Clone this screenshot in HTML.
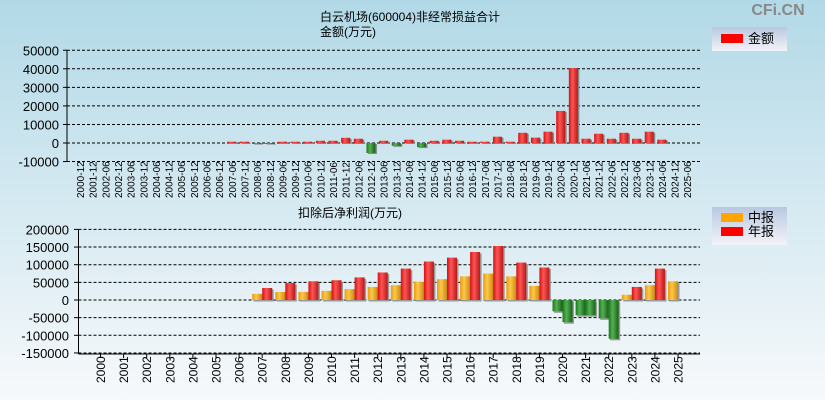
<!DOCTYPE html>
<html><head><meta charset="utf-8"><style>
body{margin:0;width:825px;height:400px;overflow:hidden;font-family:"Liberation Sans","Noto Sans CJK SC",sans-serif}
svg{display:block}
</style></head><body>
<svg id="c" width="825" height="400" xmlns="http://www.w3.org/2000/svg">
<defs>
<linearGradient id="bg" x1="0" y1="0" x2="0" y2="1"><stop offset="0" stop-color="#b2d9e7"/><stop offset="1" stop-color="#f7f9fb"/></linearGradient>
<linearGradient id="lg" x1="0" y1="0" x2="0" y2="1"><stop offset="0" stop-color="#b8c8e0"/><stop offset="1" stop-color="#f3f3f8"/></linearGradient>
<linearGradient id="gr" x1="0" x2="1"><stop offset="0" stop-color="#d21010"/><stop offset="0.4" stop-color="#ff5555"/><stop offset="1" stop-color="#b81818"/></linearGradient>
<linearGradient id="go" x1="0" x2="1"><stop offset="0" stop-color="#e89a10"/><stop offset="0.4" stop-color="#ffc84a"/><stop offset="1" stop-color="#c88a10"/></linearGradient>
<linearGradient id="gg" x1="0" x2="1"><stop offset="0" stop-color="#1a7a1a"/><stop offset="0.4" stop-color="#55b055"/><stop offset="1" stop-color="#166016"/></linearGradient>
</defs>
<rect width="825" height="400" fill="url(#bg)"/>
<text x="778" y="15" font-size="16" font-weight="bold" fill="#888" text-anchor="middle">CFi.CN</text>
<text x="410" y="21" font-size="12" text-anchor="middle">白云机场(600004)非经常损益合计</text>
<text x="348" y="36" font-size="12" text-anchor="middle">金额(万元)</text>
<text x="350" y="217" font-size="12" text-anchor="middle">扣除后净利润(万元)</text>
<g>
<rect x="712" y="27" width="75" height="24" fill="url(#lg)"/>
<rect x="721" y="34" width="22" height="9" fill="#f00"/>
<text x="748" y="43" font-size="13">金额</text>
</g>
<g>
<rect x="712" y="207" width="75" height="38" fill="url(#lg)"/>
<rect x="721" y="213" width="22" height="9" fill="#ffa500"/>
<text x="748" y="222" font-size="13">中报</text>
<rect x="721" y="227" width="22" height="9" fill="#f00"/>
<text x="748" y="236" font-size="13">年报</text>
</g>
<g id="top"></g><g id="bot"></g>
</svg>
<script>
const topCats=["2000-12","2001-12","2002-06","2002-12","2003-06","2003-12","2004-06","2004-12","2005-06","2005-12","2006-06","2006-12","2007-06","2007-12","2008-06","2008-12","2009-06","2009-12","2010-06","2010-12","2011-06","2011-12","2012-06","2012-12","2013-06","2013-12","2014-06","2014-12","2015-06","2015-12","2016-06","2016-12","2017-06","2017-12","2018-06","2018-12","2019-06","2019-12","2020-06","2020-12","2021-06","2021-12","2022-06","2022-12","2023-06","2023-12","2024-06","2024-12","2025-06"];
const topVals=[null,null,null,null,null,null,null,null,null,null,null,null,700,700,-300,-300,700,700,700,1200,1200,2800,2300,-5400,1200,-1500,1800,-2200,1200,1800,1200,700,700,3400,700,5500,2900,6100,17300,40400,2300,5000,2300,5500,2300,6100,1800,null,null];
const topTicks=[50000,40000,30000,20000,10000,0,-10000];
const botCats=["2000","2001","2002","2003","2004","2005","2006","2007","2008","2009","2010","2011","2012","2013","2014","2015","2016","2017","2018","2019","2020","2021","2022","2023","2024","2025"];
const midVals=[null,null,null,null,null,null,null,17500,23000,23000,26000,31000,37000,42000,51000,59000,67000,75000,67000,40000,-32000,-43000,-52000,15000,42000,53000];
const annVals=[null,null,null,null,null,null,null,34000,48000,53000,56000,64000,78000,89000,109000,120000,136000,153000,106000,92000,-63000,-43000,-110000,37000,89000,null];
const botTicks=[200000,150000,100000,50000,0,-50000,-100000,-150000];
const NS="http://www.w3.org/2000/svg";
function mk(p,t,a){const e=document.createElementNS(NS,t);for(const k in a)e.setAttribute(k,a[k]);p.appendChild(e);return e;}
// top chart
const T=document.getElementById('top');
const ty=v=>143-(v/10000)*18.55;
const tx=i=>80+i*12.65;
topTicks.forEach(v=>{
 const l=mk(T,'line',{x1:67,x2:700,y1:ty(v),y2:ty(v),stroke:'#000','stroke-dasharray':'3,2'});
 
 
 mk(T,'line',{x1:63,x2:67,y1:ty(v),y2:ty(v),stroke:'#000'});
 const t=mk(T,'text',{x:59,y:ty(v)+5,'font-size':13,'text-anchor':'end'});t.textContent=v;
 
 
});
mk(T,'line',{x1:67,x2:67,y1:50,y2:162,stroke:'#000'});
topCats.forEach((c,i)=>{
 const t=mk(T,'text',{transform:`translate(${tx(i)+4},198) rotate(-90)`,'font-size':10});t.textContent=c;
 
 
 const v=topVals[i];if(v==null)return;
 const y0=ty(0),y1=ty(v);
 mk(T,'rect',{x:tx(i)-3,y:Math.min(y0,y1)+1,width:9,height:Math.abs(y1-y0),fill:'#888'});
 const r=mk(T,'rect',{x:tx(i)-4.5,y:Math.min(y0,y1),width:9,height:Math.max(1,Math.abs(y1-y0)),fill:v>=0?'url(#gr)':'url(#gg)'});
 
 
});
// bottom chart
const B=document.getElementById('bot');
const by=v=>300-(v/50000)*17.65;
const bx=i=>100.5+i*23.1;
botTicks.forEach(v=>{
 const l=mk(B,'line',{x1:78.5,x2:700,y1:by(v),y2:by(v),stroke:'#000','stroke-dasharray':'3,2'});
 
 
 mk(B,'line',{x1:74,x2:78.5,y1:by(v),y2:by(v),stroke:'#000'});
 const t=mk(B,'text',{x:69,y:by(v)+5,'font-size':13,'text-anchor':'end'});t.textContent=v;
 
 
});
mk(B,'line',{x1:78.5,x2:78.5,y1:230,y2:354,stroke:'#000'});
mk(B,'line',{x1:78.5,x2:700,y1:354,y2:354,stroke:'#000'});
function bar(x,v,grad,name){
 const y0=by(0),y1=by(v);
 mk(B,'rect',{x:x+1.5,y:Math.min(y0,y1)+1.5,width:10,height:Math.abs(y1-y0),fill:'#999'});
 const r=mk(B,'rect',{x:x,y:Math.min(y0,y1),width:10,height:Math.abs(y1-y0),fill:v>=0?grad:'url(#gg)'});
 
 
}
botCats.forEach((c,i)=>{
 mk(B,'line',{x1:bx(i),x2:bx(i),y1:354,y2:358,stroke:'#000'});
 const t=mk(B,'text',{transform:`translate(${bx(i)+4.5},383) rotate(-90)`,'font-size':12});t.textContent=c;
 
 
 if(midVals[i]!=null)bar(bx(i)-10,midVals[i],'url(#go)','interim-bar');
 if(annVals[i]!=null)bar(bx(i),annVals[i],'url(#gr)','annual-bar');
});
</script>
</body></html>
